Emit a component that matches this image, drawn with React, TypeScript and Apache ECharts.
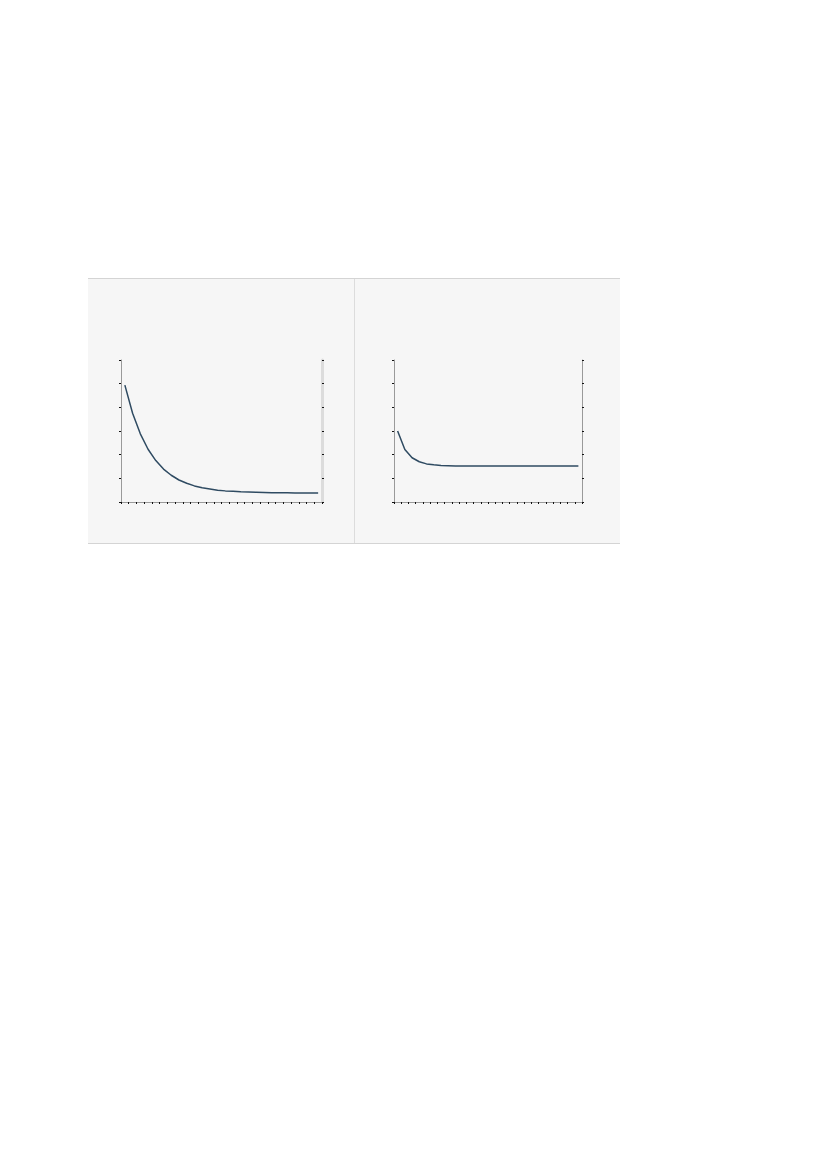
import { useEffect, useRef } from "react";
import * as echarts from "echarts";

// 26 steps on both panels, no labels shown
const steps = Array.from({ length: 26 }, (_, i) => String(i + 1));

// values
const leftValues = [
  4.94, 3.75, 2.88, 2.23, 1.75, 1.39, 1.13, 0.93, 0.79, 0.68, 0.6, 0.55, 0.5,
  0.47, 0.45, 0.43, 0.42, 0.41, 0.4, 0.39, 0.39, 0.39, 0.38, 0.38, 0.38, 0.38,
];
const rightValues = [
  3.0, 2.22, 1.87, 1.7, 1.61, 1.57, 1.54, 1.53, 1.52, 1.52, 1.52, 1.52, 1.52,
  1.52, 1.52, 1.52, 1.52, 1.52, 1.52, 1.52, 1.52, 1.52, 1.52, 1.52, 1.52, 1.52,
];
const yTicks = [0, 1, 2, 3, 4, 5, 6];

const LINE = "#2f4b62";
const AXIS = "#9a9a9a";

function xAxis(gridIndex: number) {
  return {
    type: "category" as const,
    gridIndex,
    data: steps,
    boundaryGap: true,
    axisLine: { lineStyle: { color: AXIS, width: 1 } },
    axisTick: { show: true, interval: 0, length: 2, inside: false, lineStyle: { color: "#111" } },
    axisLabel: { show: false, interval: 0 },
    splitLine: { show: false },
  };
}

function yAxis(gridIndex: number, position: "left" | "right", color: string, width: number) {
  return {
    type: "value" as const,
    gridIndex,
    position,
    min: yTicks[0],
    max: yTicks[yTicks.length - 1],
    interval: 1,
    axisLine: { show: true, lineStyle: { color, width } },
    axisTick: { show: true, length: 2, lineStyle: { color: "#111" } },
    axisLabel: { show: false },
    splitLine: { show: false },
  };
}

function lineSeries(index: number, values: number[]) {
  return {
    type: "line" as const,
    xAxisIndex: index,
    yAxisIndex: index * 2,
    data: values,
    showSymbol: false,
    smooth: false,
    lineStyle: { color: LINE, width: 1.5 },
  };
}

export default function App() {
  const ref = useRef<HTMLDivElement | null>(null);

  useEffect(() => {
    if (!ref.current) return;
    const chart = echarts.init(ref.current, undefined, { renderer: "svg" });
    chart.setOption({
      animation: false,
      grid: [
        { left: 33, top: 82, width: 201, height: 142 },
        { left: 306, top: 82, width: 188, height: 142 },
      ],
      xAxis: [xAxis(0), xAxis(1)],
      yAxis: [
        yAxis(0, "left", AXIS, 1),
        yAxis(0, "right", "#dcdcdc", 3),
        yAxis(1, "left", AXIS, 1),
        yAxis(1, "right", AXIS, 1),
      ],
      series: [lineSeries(0, leftValues), lineSeries(1, rightValues)],
    });
    return () => chart.dispose();
  }, []);

  return (
    <div
      style={{
        position: "absolute",
        left: 88,
        top: 278,
        width: 532,
        height: 266,
        boxSizing: "border-box",
        background: "#f6f6f6",
        borderTop: "1px solid #d4d4d4",
        borderBottom: "1px solid #d4d4d4",
      }}
    >
      <div
        style={{
          position: "absolute",
          left: 266,
          top: 0,
          width: 1,
          height: "100%",
          background: "#dcdcdc",
        }}
      />
      <div ref={ref} style={{ position: "absolute", left: 0, top: -1, width: 532, height: 265 }} />
    </div>
  );
}
